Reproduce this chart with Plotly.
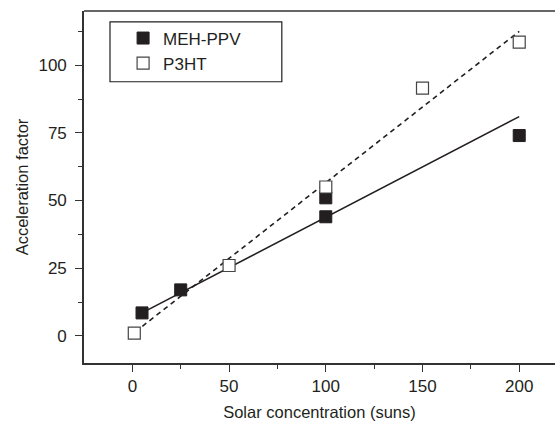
import plotly.graph_objects as go

# measured points
meh_x = [5, 25, 100, 100, 200]
meh_y = [8.5, 17, 44, 51, 74]
p3ht_x = [1, 50, 100, 150, 200]
p3ht_y = [1, 26, 55, 91.5, 108.5]

# fit lines (end points)
meh_fit_x = [5, 200]
meh_fit_y = [8.5, 81]
p3ht_fit_x = [1.5, 200]
p3ht_fit_y = [1.5, 112.5]

ink = "#231f20"

fig = go.Figure()

fig.add_trace(go.Scatter(x=meh_fit_x, y=meh_fit_y, mode="lines",
                         line=dict(color=ink, width=1.6), showlegend=False))
fig.add_trace(go.Scatter(x=p3ht_fit_x, y=p3ht_fit_y, mode="lines",
                         line=dict(color=ink, width=1.6, dash="5px,4px"), showlegend=False))

fig.add_trace(go.Scatter(x=meh_x, y=meh_y, mode="markers", name="MEH-PPV",
                         marker=dict(symbol="square", size=12, color=ink,
                                     line=dict(color=ink, width=1))))
fig.add_trace(go.Scatter(x=p3ht_x, y=p3ht_y, mode="markers", name="P3HT",
                         marker=dict(symbol="square", size=12, color="white",
                                     line=dict(color="#444", width=1.2))))

# legend frame
fig.add_shape(type="rect", xref="paper", yref="paper",
              x0=0.0552, x1=0.420, y0=0.799, y1=0.969,
              line=dict(color=ink, width=1.2), fillcolor="rgba(0,0,0,0)")
# top frame line (right side stays open, as in the original)
fig.add_shape(type="line", xref="paper", yref="paper", x0=0, x1=1, y0=1, y1=1,
              line=dict(color="#333", width=1.6))

axis_common = dict(showgrid=False, zeroline=False, showline=True, linecolor="#333",
                   linewidth=1.6, ticks="outside", ticklen=7, tickcolor="#333",
                   tickwidth=1.2, tickfont=dict(size=17))

fig.update_layout(
    width=555, height=421,
    margin=dict(l=84, r=0, t=11, b=56),
    paper_bgcolor="white", plot_bgcolor="white",
    font=dict(family="Liberation Sans, Arial, sans-serif", size=17, color=ink),
    legend=dict(x=0.083, y=0.973, xanchor="left", yanchor="top",
                borderwidth=0, bgcolor="rgba(0,0,0,0)",
                font=dict(size=17), itemwidth=30, tracegroupgap=0),
    xaxis=dict(range=[-25, 218.5], tickvals=[0, 50, 100, 150, 200],
               minor=dict(tickvals=[25, 75, 125, 175], ticks="outside", ticklen=4, tickcolor="#333"),
               title=dict(text="Solar concentration (suns)", font=dict(size=16.5), standoff=13),
               **axis_common),
    yaxis=dict(range=[-10, 120], tickvals=[0, 25, 50, 75, 100], ticklabelstandoff=5,
               minor=dict(tickvals=[12.5, 37.5, 62.5, 87.5, 112.5], ticks="outside", ticklen=4, tickcolor="#333"),
               title=dict(text="Acceleration factor", font=dict(size=16.5), standoff=6),
               **axis_common),
)

# drop the default 8px body margin so the figure sits at the window origin
fig.write_html("out.html", config={"displayModeBar": False},
               post_script="document.body.style.margin='0';")
